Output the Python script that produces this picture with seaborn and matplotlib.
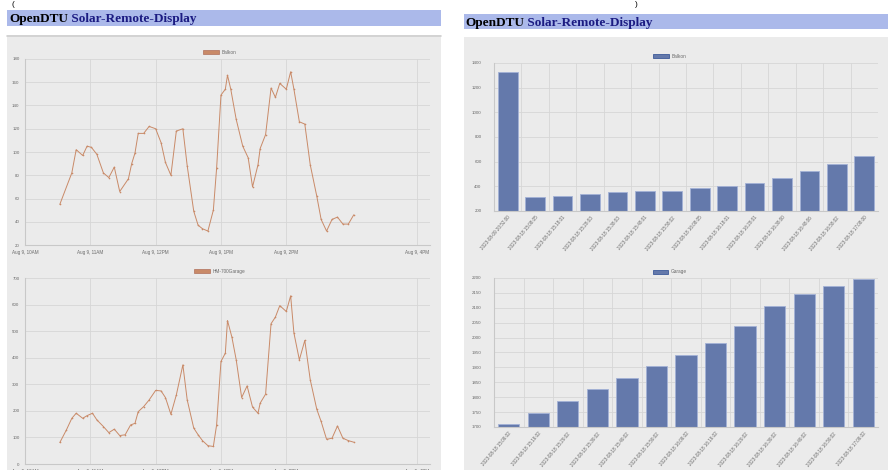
import numpy as np
import pandas as pd
import seaborn as sns
import matplotlib.pyplot as plt
from matplotlib.patches import Rectangle, Patch

# Daten: Linien (Aug 9, Leistung in W)
balkon_zeit = ['10:32', '10:43', '10:47', '10:53', '10:57', '11:01', '11:06', '11:12', '11:17', '11:22',
               '11:27', '11:35', '11:38', '11:41', '11:44', '11:49', '11:54', '12:00', '12:05', '12:09',
               '12:14', '12:19', '12:25', '12:29', '12:35', '12:39', '12:43', '12:48', '12:53', '12:56',
               '13:00', '13:04', '13:06', '13:09', '13:14', '13:20', '13:25', '13:29', '13:34', '13:36',
               '13:41', '13:46', '13:50', '13:54', '14:00', '14:04', '14:07', '14:12', '14:17', '14:22',
               '14:28', '14:32', '14:37', '14:42', '14:47', '14:52', '14:57', '15:02']
balkon_watt = [55, 82, 102, 97, 105, 104, 98, 82, 78, 87,
               66, 77, 90, 99, 116, 116, 122, 120, 108, 91,
               80, 118, 120, 88, 49, 37, 34, 32, 50, 86,
               149, 154, 166, 154, 128, 105, 95, 70, 89, 103,
               115, 155, 147, 159, 154, 169, 154, 126, 124, 89,
               62, 42, 32, 42, 44, 38, 38, 46]

garage_zeit = ['10:32', '10:38', '10:43', '10:47', '10:53', '10:57', '11:02', '11:06', '11:12', '11:17',
               '11:22', '11:27', '11:32', '11:37', '11:41', '11:44', '11:49', '11:54', '12:00', '12:05',
               '12:09', '12:14', '12:19', '12:25', '12:29', '12:35', '12:39', '12:43', '12:48', '12:53',
               '12:56', '13:00', '13:04', '13:06', '13:10', '13:14', '13:19', '13:24', '13:29', '13:34',
               '13:36', '13:41', '13:46', '13:50', '13:54', '14:00', '14:04', '14:07', '14:12', '14:17',
               '14:22', '14:28', '14:32', '14:37', '14:42', '14:47', '14:52', '14:57', '15:02']
garage_watt = [81, 128, 172, 191, 172, 182, 191, 166, 141, 118,
               131, 107, 110, 147, 153, 197, 216, 241, 277, 275,
               250, 187, 260, 373, 241, 135, 110, 88, 69, 66,
               147, 386, 417, 540, 478, 392, 250, 294, 214, 191,
               229, 263, 528, 553, 596, 574, 633, 493, 392, 465,
               317, 206, 160, 93, 97, 143, 97, 88, 82]

stunden = ['10:00', '11:00', '12:00', '13:00', '14:00', '16:00']
stunden_labels = ['Aug 9, 10AM', 'Aug 9, 11AM', 'Aug 9, 12PM', 'Aug 9, 1PM', 'Aug 9, 2PM', 'Aug 9, 4PM']

# Daten: Balken (Zaehlerstand)
bar_balkon_labels = ['2023-08-09 20:52:00', '2023-08-18 15:08:05', '2023-08-18 15:18:01', '2023-08-18 15:28:03',
                     '2023-08-18 15:38:03', '2023-08-18 15:48:01', '2023-08-18 15:58:02', '2023-08-18 16:08:05',
                     '2023-08-18 16:18:01', '2023-08-18 16:28:01', '2023-08-18 16:38:00', '2023-08-18 16:48:06',
                     '2023-08-18 16:58:02', '2023-08-18 17:08:00']
bar_balkon_werte = [1325, 310, 324, 337, 351, 361, 364, 388, 404, 429, 469, 523, 582, 644]

bar_garage_labels = ['2023-08-18 15:09:02', '2023-08-18 15:19:02', '2023-08-18 15:29:02', '2023-08-18 15:39:02',
                     '2023-08-18 15:49:02', '2023-08-18 15:59:02', '2023-08-18 16:09:02', '2023-08-18 16:19:02',
                     '2023-08-18 16:29:02', '2023-08-18 16:39:02', '2023-08-18 16:49:02', '2023-08-18 16:59:02',
                     '2023-08-18 17:09:02']
bar_garage_werte = [1709, 1748, 1787, 1826, 1866, 1904, 1942, 1983, 2038, 2107, 2145, 2174, 2197]

W, H = 888, 470
GRAU = '#ebebeb'
KOPF = '#abb9ea'
NAVY = '#1b1b82'
LINIE = '#c98a68'
BLAU = '#6479ab'
GRID = '#d6d6d6'
TXT = '#6a6a6a'

sns.set_style('white')
plt.rcParams['font.family'] = ['Liberation Sans', 'DejaVu Sans']


def box(x0, y0, x1, y1):
    return [x0 / W, 1 - y1 / H, (x1 - x0) / W, (y1 - y0) / H]


fig = plt.figure(figsize=(W / 100, H / 100), dpi=100)

# Hintergrund (Webseiten-Screenshot)
bg = fig.add_axes([0, 0, 1, 1], zorder=0)
bg.set_xlim(0, W)
bg.set_ylim(H, 0)
bg.axis('off')
bg.add_patch(Rectangle((7, 35), 434, 440, color=GRAU, lw=0))
bg.plot([7, 441], [35.5, 35.5], color='#cfcfcf', lw=1.2)
bg.add_patch(Rectangle((7, 10), 434, 16, color=KOPF, lw=0))
bg.add_patch(Rectangle((464, 37), 424, 440, color=GRAU, lw=0))
bg.add_patch(Rectangle((464, 14), 424, 15, color=KOPF, lw=0))
bg.text(13, 4, '(', fontsize=6, color='black', ha='center', va='center')
bg.text(636, 4, ')', fontsize=6, color='black', ha='center', va='center')


def titel(x, y):
    t1 = bg.text(x, y, 'OpenDTU', fontsize=9.5, fontweight='bold', family='Liberation Serif',
                 color='black', va='baseline')
    bg.annotate(' Solar-Remote-Display', xy=(1, 0), xycoords=t1, va='bottom', ha='left',
                fontsize=9.5, fontweight='bold', family='Liberation Serif', color=NAVY)


titel(9, 22)
titel(465, 26)


def stil(ax, ylen):
    ax.set_facecolor(GRAU)
    ax.set_axisbelow(True)
    for s in ['top', 'right']:
        ax.spines[s].set_visible(False)
    for s in ['left', 'bottom']:
        ax.spines[s].set_color('#c8c8c8')
        ax.spines[s].set_linewidth(0.8)
    ax.tick_params(axis='y', length=ylen, color=GRID, labelsize=3.2, labelcolor=TXT, pad=2)
    ax.set_xlabel('')
    ax.set_ylabel('')


def linien(pos, zeit, werte, name, ymax, ystep, leg):
    ax = fig.add_axes(box(*pos), zorder=2)
    df = pd.DataFrame({'Zeit': pd.to_datetime('2023-08-09 ' + pd.Series(zeit)), 'Watt': werte})
    sns.lineplot(data=df, x='Zeit', y='Watt', ax=ax, color=LINIE, lw=0.7,
                 marker='o', markersize=1.2, markeredgewidth=0)
    ax.set_xlim(pd.Timestamp('2023-08-09 10:00'), pd.Timestamp('2023-08-09 16:12'))
    ax.set_ylim(ymax - 8 * ystep if ystep == 20 else 0, ymax)
    ax.set_yticks(np.arange(ax.get_ylim()[0], ymax + 1, ystep))
    ax.set_xticks(pd.to_datetime('2023-08-09 ' + pd.Series(stunden)))
    ax.set_xticklabels(stunden_labels)
    ax.grid(True, color=GRID, lw=0.6)
    stil(ax, 2)
    ax.tick_params(axis='x', length=2, color=GRID, labelsize=3.3, labelcolor=TXT, pad=1.5)
    ax.legend(handles=[Patch(facecolor=LINIE, edgecolor='#b0705a', lw=0.5, label=name)],
              loc='center', bbox_to_anchor=(leg[0] / W, 1 - leg[1] / H), bbox_transform=fig.transFigure,
              frameon=False, fontsize=3.4, labelcolor=TXT, handlelength=3.3, handleheight=1.0,
              handletextpad=0.6, borderpad=0)


linien((25, 59, 430, 245), balkon_zeit, balkon_watt, 'Balkon', 180, 20, (220, 52.5))
linien((25, 278, 430, 464), garage_zeit, garage_watt, 'HM-700Garage', 700, 100, (220, 271.5))


def balken(pos, labels, werte, name, ymin, ymax, ystep, leg):
    ax = fig.add_axes(box(*pos), zorder=2)
    df = pd.DataFrame({'Zeit': labels, 'Wert': werte})
    sns.barplot(data=df, x='Zeit', y='Wert', ax=ax, color=BLAU, saturation=1, width=0.72,
                edgecolor='#a3b1d6', linewidth=0.6)
    n = len(labels)
    ax.set_xlim(-0.5, n - 0.5)
    ax.set_ylim(ymin, ymax)
    ax.set_yticks(np.arange(ymin, ymax + 1, ystep))
    ax.set_xticks(np.arange(n + 1) - 0.5, minor=True)
    ax.grid(False)
    ax.yaxis.grid(True, color=GRID, lw=0.6)
    ax.xaxis.grid(True, which='minor', color=GRID, lw=0.6)
    stil(ax, 7)
    ax.tick_params(axis='x', which='minor', length=0)
    ax.tick_params(axis='x', which='major', length=0, pad=3, labelsize=3.3, labelcolor=TXT)
    ax.set_xticks(range(n))
    ax.set_xticklabels(labels, rotation=50, ha='right', rotation_mode='anchor')
    ax.legend(handles=[Patch(facecolor=BLAU, edgecolor='#3d5a99', lw=0.6, label=name)],
              loc='center', bbox_to_anchor=(leg[0] / W, 1 - leg[1] / H), bbox_transform=fig.transFigure,
              frameon=False, fontsize=3.4, labelcolor=TXT, handlelength=3.3, handleheight=1.0,
              handletextpad=0.6, borderpad=0)


balken((494, 63, 878, 211), bar_balkon_labels, bar_balkon_werte, 'Balkon', 200, 1400, 200, (670, 56.5))
balken((494, 278, 878, 427), bar_garage_labels, bar_garage_werte, 'Garage', 1700, 2200, 50, (670, 272))

fig.savefig('out.png', dpi=100)
